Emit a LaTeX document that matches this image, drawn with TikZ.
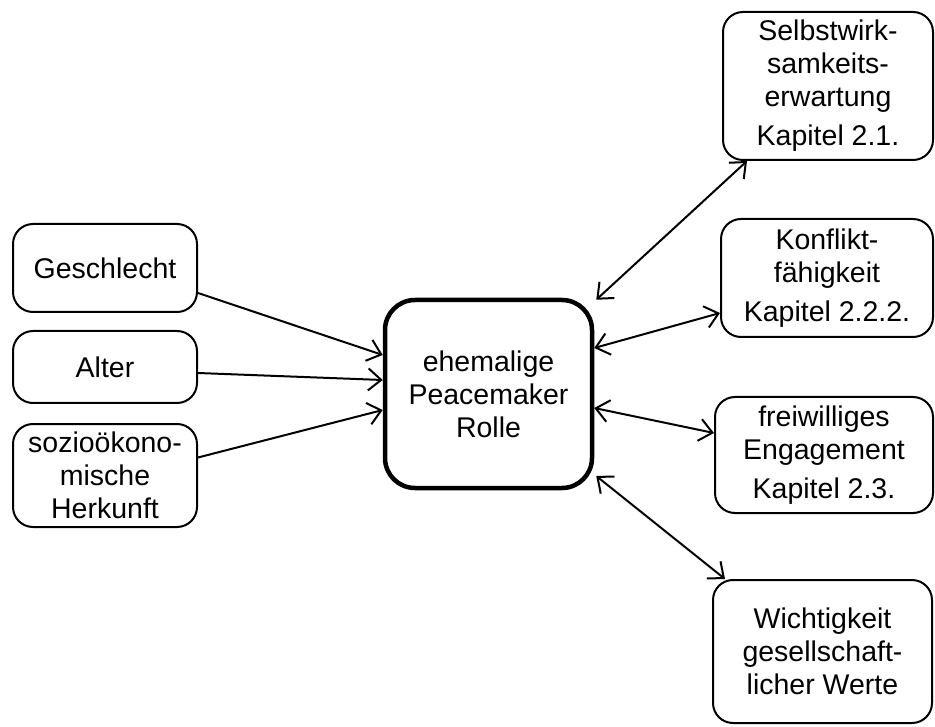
\documentclass[tikz,border=0pt]{standalone}
\usepackage{fontspec}
\setmainfont{Liberation Sans}
\usetikzlibrary{arrows.meta}
\begin{document}
\begin{tikzpicture}[x=1pt,y=-1pt,
  box/.style={draw=black, line width=2pt, rounded corners=20pt, align=center,
    inner sep=0pt, font=\fontsize{28.5}{33}\selectfont},
  mainbox/.style={draw=black, line width=4.5pt, rounded corners=30pt, align=center,
    inner sep=0pt, font=\fontsize{28.5}{33}\selectfont},
  conn/.style={line width=2pt, -{Straight Barb[length=13pt,width=22pt,line width=2pt]}},
  biconn/.style={line width=2pt, {Straight Barb[length=13pt,width=22pt,line width=2pt]}-{Straight Barb[length=13pt,width=22pt,line width=2pt]}}
]
\useasboundingbox (0,0) rectangle (935,727);

\node[box, minimum width=184pt, minimum height=88pt] (geschl) at (105,268) {Geschlecht};
\node[box, minimum width=184pt, minimum height=72pt] (alter) at (105,367) {Alter};
\node[box, minimum width=184pt, minimum height=103pt] (sozio) at (105,475.5) {sozioökono-\\mische\\Herkunft};

\node[mainbox, minimum width=207pt, minimum height=188pt] (center) at (488.5,394) {ehemalige\\Peacemaker\\Rolle};

\node[box, minimum width=210pt, minimum height=148pt] (selbst) at (828,86) {Selbstwirk-\\samkeits-\\erwartung\\[6pt]Kapitel 2.1.};
\node[box, minimum width=212pt, minimum height=118pt] (konflikt) at (827,278) {Konflikt-\\fähigkeit\\[6pt]Kapitel 2.2.2.};
\node[box, minimum width=218pt, minimum height=116pt] (frei) at (824,455) {freiwilliges\\Engagement\\[6pt]Kapitel 2.3.};
\node[box, minimum width=219pt, minimum height=143pt] (wicht) at (822.5,651.5) {Wichtigkeit\\gesellschaft-\\licher Werte};

\draw[conn] ([yshift=-25pt]geschl.east) -- ([yshift=39pt]center.west);
\draw[conn] ([yshift=-6pt]alter.east) -- ([yshift=14pt]center.west);
\draw[conn] ([yshift=18pt]sozio.east) -- ([yshift=-16pt]center.west);

\draw[biconn] ([xshift=2pt,yshift=-2pt]center.north east) -- ([xshift=-81pt]selbst.south);
\draw[biconn] ([yshift=46pt]center.east) -- ([yshift=-35pt]konflikt.west);
\draw[biconn] ([yshift=-14pt]center.east) -- ([yshift=22pt]frei.west);
\draw[biconn] ([xshift=2pt,yshift=-82pt]center.east) -- ([xshift=13pt]wicht.north west);
\end{tikzpicture}
\end{document}
